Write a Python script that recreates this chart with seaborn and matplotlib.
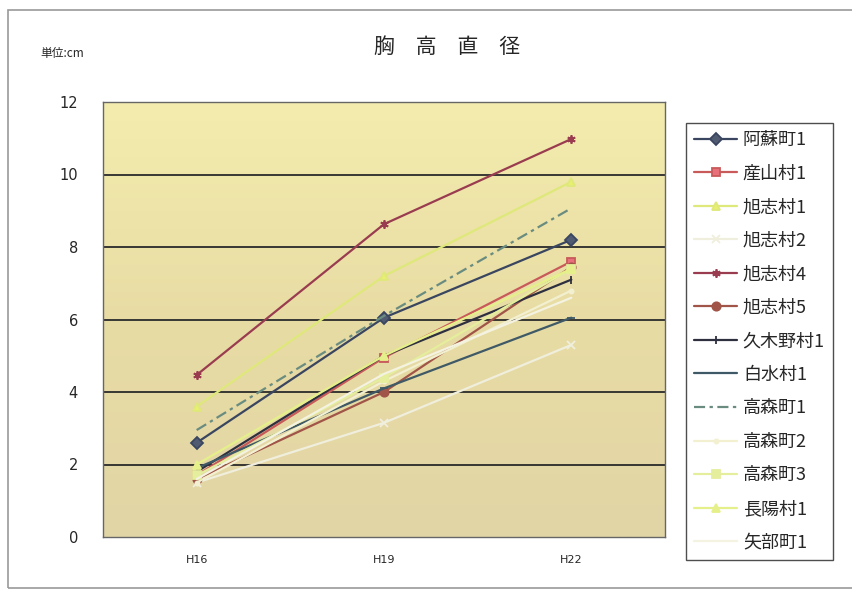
import matplotlib
matplotlib.use("Agg")
import matplotlib.pyplot as plt
from matplotlib.colors import LinearSegmentedColormap
import seaborn as sns
import pandas as pd
import numpy as np

years = ["H16", "H19", "H22"]
sites = ["阿蘇町1", "産山村1", "旭志村1", "旭志村2", "旭志村4", "旭志村5", "久木野村1",
         "白水村1", "高森町1", "高森町2", "高森町3", "長陽村1", "矢部町1"]
aso1 = [2.6, 6.05, 8.2]
ubuyama1 = [1.7, 4.95, 7.6]
kyokushi1 = [3.6, 7.2, 9.8]
kyokushi2 = [1.5, 3.15, 5.3]
kyokushi4 = [4.47, 8.63, 10.98]
kyokushi5 = [1.6, 4.0, 7.45]
kugino1 = [1.8, 5.0, 7.1]
hakusui1 = [1.9, 4.1, 6.05]
takamori1 = [2.95, 6.1, 9.07]
takamori2 = [1.5, 4.3, 6.8]
takamori3 = [1.7, 4.4, 7.4]
choyo1 = [2.0, 5.0, 7.4]
yabe1 = [1.6, 4.5, 6.6]
values = [aso1, ubuyama1, kyokushi1, kyokushi2, kyokushi4, kyokushi5, kugino1,
          hakusui1, takamori1, takamori2, takamori3, choyo1, yabe1]

rows = []
for s, vals in zip(sites, values):
    for y, v in zip(years, vals):
        rows.append({"year": y, "site": s, "value": v})
df = pd.DataFrame(rows)

colors = ["#3a4660", "#c85a5a", "#dfe87a", "#f0eedc", "#9a3c50", "#a05548", "#2e3040",
          "#3f5a66", "#6a8c80", "#f2f0d0", "#e4ee9c", "#e6f08a", "#f4f2e0"]
markers = ["D", "s", "^", "x", (6, 2, 0), "o", "|", "_", "", ".", "s", "^", ""]
styles = ["-", "-", "-", "-", "-", "-", "-", "-", (0, (5, 2, 1.5, 2)), "-", "-", "-", "-"]
mfc = ["#505a70", "#e8707a", "#e8f070", "#f0eedc", "#9a3c50", "#a05548", "#2e3040",
       "#3f5a66", "#6a8c80", "#f2f0d0", "#e4ee9c", "#e6f08a", "#f4f2e0"]

sns.set_theme(style="white")
plt.rcParams["font.family"] = ["Noto Sans CJK JP", "DejaVu Sans"]

fig = plt.figure(figsize=(8.52, 5.90), dpi=100)
fig.patch.set_facecolor("white")
ax = fig.add_axes([103/852, 1-537/590, (665-103)/852, (537-102)/590])
ax.set_facecolor("#eadfa6")

# background gradient of the plot area (light yellow top, tan lower)
grad_cmap = LinearSegmentedColormap.from_list("bg", ["#e2d5a6", "#e8dca4", "#f4ecae"])
ax.imshow(np.linspace(0, 1, 256).reshape(-1, 1), cmap=grad_cmap, origin="lower",
          extent=(-0.5, 2.5, 0, 12), aspect="auto", zorder=0, interpolation="bilinear")

for s, c, m, ls, fc in zip(sites, colors, markers, styles, mfc):
    sub = df[df["site"] == s]
    kw = dict(color=c, linewidth=1.6, linestyle=ls, label=s)
    if m != "":
        kw.update(marker=m, markersize=6, markeredgewidth=1.3,
                  markerfacecolor=fc, markeredgecolor=c)
    sns.lineplot(data=sub, x="year", y="value", sort=False, ax=ax, **kw)

ax.set_xlim(-0.5, 2.5)
ax.set_ylim(0, 12)
ax.set_yticks([0, 2, 4, 6, 8, 10, 12])
ax.set_yticklabels(["0", "2", "4", "6", "8", "10", "12"], fontsize=10.5, family="DejaVu Sans")
ax.set_xticks([0, 1, 2])
ax.set_xticklabels(years, fontsize=8, family="DejaVu Sans")
ax.set_xticks([0.5, 1.5], minor=True)
ax.tick_params(axis="x", which="major", length=0, pad=13)
ax.tick_params(axis="x", which="minor", length=4, direction="in", color="#555555")
ax.tick_params(axis="y", length=0, pad=18, left=True)
ax.set_xlabel("")
ax.set_ylabel("")
for yv in [2, 4, 6, 8, 10]:
    ax.axhline(yv, color="#2a2a2a", linewidth=1.3, zorder=0.5)
for sp in ax.spines.values():
    sp.set_color("#666666")
    sp.set_linewidth(1.0)

handles, labels = ax.get_legend_handles_labels()
if ax.get_legend() is not None:
    ax.get_legend().remove()
leg = fig.legend(handles, labels, loc="upper left",
                 bbox_to_anchor=(686/852, 1-123/590), bbox_transform=fig.transFigure,
                 frameon=True, fancybox=False, fontsize=13, handlelength=2.4,
                 handletextpad=0.3, labelspacing=0.86, borderpad=0.45, borderaxespad=0)
leg.get_frame().set_edgecolor("#222222")
leg.get_frame().set_linewidth(1.0)

fig.text(447/852, 1-47/590, "胸\u3000高\u3000直\u3000径", ha="center", va="center", fontsize=15)
fig.text(40/852, 1-53/590, "単位:cm", ha="left", va="center", fontsize=8.5)

frame = plt.Rectangle((8/852, 2/590), 1.0, 1-12/590, transform=fig.transFigure,
                      fill=False, edgecolor="#999999", linewidth=1.2)
fig.patches.append(frame)

fig.savefig("out.png", dpi=100)
